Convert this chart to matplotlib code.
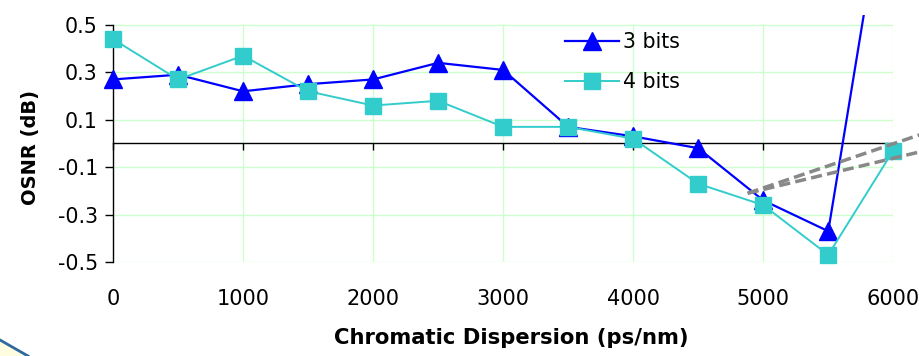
import matplotlib
matplotlib.use("Agg")
import matplotlib.pyplot as plt
from matplotlib.patches import Polygon, Rectangle

plt.rcParams['font.family'] = ['DejaVu Sans']

dispersion = [0, 500, 1000, 1500, 2000, 2500, 3000, 3500, 4000, 4500, 5000, 5500, 6000]
osnr_3bits = [0.27, 0.29, 0.22, 0.25, 0.27, 0.34, 0.31, 0.07, 0.03, -0.02, -0.24, -0.37, 1.30]
osnr_4bits = [0.44, 0.27, 0.37, 0.22, 0.16, 0.18, 0.07, 0.07, 0.02, -0.17, -0.26, -0.47, -0.03]

# two grey dashed guide lines (start and end points)
guide_x = [4880, 6200]
guide_a = [-0.21, 0.036]
guide_b = [-0.21, -0.036]

xticks = [0, 1000, 2000, 3000, 4000, 5000, 6000]
yticks = [-0.5, -0.3, -0.1, 0.1, 0.3, 0.5]

fig = plt.figure(figsize=(9.19, 3.56), dpi=100)
ax = fig.add_axes([0.123, 0.264, 0.849, 0.706])
ax.set_xlim(0, 6000)
ax.set_ylim(-0.5, 0.56)

# grid
for yv in yticks:
    ax.axhline(yv, color='#CCFFCC', lw=1, zorder=0)
for xv in xticks[1:]:
    ax.plot([xv, xv], [-0.5, 0.5], color='#CCFFCC', lw=1, zorder=0)

for s in ['top', 'right']:
    ax.spines[s].set_visible(False)
ax.spines['left'].set_bounds(-0.5, 0.5)
ax.spines['left'].set_linewidth(1)
ax.spines['bottom'].set_position(('data', 0))
ax.spines['bottom'].set_linewidth(1)

ax.set_yticks(yticks)
ax.set_yticklabels(['-0.5', '-0.3', '-0.1', '0.1', '0.3', '0.5'])
ax.set_xticks(xticks)
ax.tick_params(axis='y', direction='out', length=6, width=1, labelsize=14.8, pad=5)
ax.tick_params(axis='x', direction='out', length=5, width=1, labelsize=15, pad=100)

# clip region: whole figure width, top a little above the axes top gridline
clip = Rectangle((0, 0), 1, 1 - 15 / 356, transform=fig.transFigure)

l3, = ax.plot(dispersion, osnr_3bits, color='#0000FF', lw=1.6, marker='^', markersize=13,
              markeredgecolor='#0000FF', label='3 bits', zorder=3)
l3.set_clip_path(clip)
l3.set_clip_on(True)
ax.plot(dispersion, osnr_4bits, color='#33CCCC', lw=1.4, marker='s', markersize=12,
        markeredgecolor='#33CCCC', label='4 bits', zorder=4, clip_on=False)

ax.plot(guide_x, guide_a, color='#888888', lw=2.5, ls=(0, (3.2, 1.5)), clip_on=False, zorder=5)
ax.plot(guide_x, guide_b, color='#888888', lw=2.5, ls=(0, (3.2, 1.5)), clip_on=False, zorder=5)

leg = ax.legend(loc='upper left', bbox_to_anchor=(0.569, 0.949), frameon=False,
                fontsize=14.8, handlelength=2.6, handletextpad=0.2, labelspacing=1.0,
                borderaxespad=0)

fig.text(0.556, 0.05, 'Chromatic Dispersion (ps/nm)', ha='center', va='center',
         fontsize=15.2, fontweight='bold')
fig.text(0.033, 0.586, 'OSNR (dB)', ha='center', va='center', rotation=90,
         fontsize=14, fontweight='bold')

# slide decoration in the lower-left corner
deco = Polygon([[0, 16 / 356], [28 / 919, 0], [0, 0]], closed=True,
               transform=fig.transFigure, facecolor='#FFFDE0', edgecolor='none')
fig.patches.append(deco)
fig.lines.append(plt.Line2D([0, 28 / 919], [16 / 356, 0], transform=fig.transFigure,
                            color='#2E6A9E', lw=2))

fig.savefig('out.png', dpi=100)
